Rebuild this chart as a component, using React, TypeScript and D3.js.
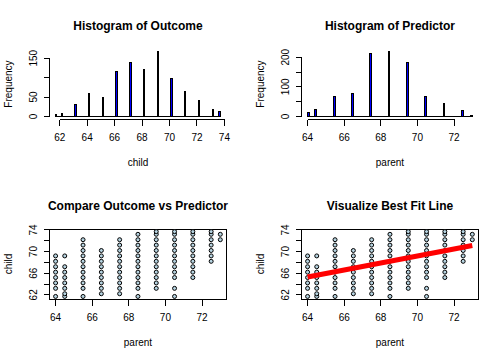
import React from "react";
import * as d3 from "d3";

// ---- data ----
const childValues = [61.7, 62.2, 63.2, 64.2, 65.2, 66.2, 67.2, 68.2, 69.2, 70.2, 71.2, 72.2, 73.2, 73.7];
const childCounts = [5, 7, 32, 59, 48, 117, 138, 120, 167, 99, 64, 41, 17, 14];
const parentValues = [64.0, 64.5, 65.5, 66.5, 67.5, 68.5, 69.5, 70.5, 71.5, 72.5, 73.0];
const parentCounts = [14, 23, 66, 78, 211, 219, 183, 68, 43, 19, 4];

const scatterParents = [64.0, 64.5, 65.5, 66.5, 67.5, 68.5, 69.5, 70.5, 71.5, 72.5, 73.0];
const scatterChildren = [
  [61.7, 63.2, 64.2, 65.2, 66.2, 67.2, 68.2, 69.2],
  [61.7, 62.2, 63.2, 64.2, 65.2, 66.2, 67.2, 69.2],
  [61.7, 63.2, 64.2, 65.2, 66.2, 67.2, 68.2, 69.2, 70.2, 71.2, 72.2],
  [62.2, 63.2, 64.2, 65.2, 66.2, 67.2, 68.2, 69.2, 70.2],
  [62.2, 63.2, 64.2, 65.2, 66.2, 67.2, 68.2, 69.2, 70.2, 71.2, 72.2],
  [61.7, 63.2, 64.2, 65.2, 66.2, 67.2, 68.2, 69.2, 70.2, 71.2, 72.2, 73.2],
  [63.2, 64.2, 65.2, 66.2, 67.2, 68.2, 69.2, 70.2, 71.2, 72.2, 73.2, 73.7],
  [61.7, 63.2, 65.2, 66.2, 67.2, 68.2, 69.2, 70.2, 71.2, 72.2, 73.2, 73.7],
  [65.2, 66.2, 67.2, 68.2, 69.2, 70.2, 71.2, 72.2, 73.2, 73.7],
  [68.2, 69.2, 70.2, 71.2, 72.2, 73.2, 73.7],
  [72.2, 73.2],
];

const fitX = [64, 73];
const fitY = [65.3, 71.12];

const childTicks = [62, 64, 66, 68, 70, 72, 74];
const childFreqTicks = [0, 50, 100, 150];
const childFreqLabels = ["0", "50", "", "150"];
const parentTicks = [64, 66, 68, 70, 72];
const parentFreqTicks = [0, 50, 100, 150, 200];
const parentFreqLabels = ["0", "", "100", "", "200"];
const scatterYTicks = [62, 64, 66, 68, 70, 72, 74];
const scatterYLabels = ["62", "", "66", "", "70", "", "74"];

// ---- layout (R base graphics, mfrow 2x2, cex 0.83) ----
const PW = 252, PH = 180;
const LINE = 0.83 * 0.2 * 72;
const L = 4.1 * LINE, R = PW - 2.1 * LINE, T = 4.1 * LINE, B = PH - 5.1 * LINE;
const FONT = "Liberation Sans, Arial, Helvetica, sans-serif";
const BIN = 0.1;
const f = Math.floor;

function ext(lo: number, hi: number): [number, number] {
  const d = (hi - lo) * 0.04;
  return [lo - d, hi + d];
}

function Axes({ x, y, xTicks, yTicks, yLabels, xLabel, yLabel, title, box }: any) {
  const by = f(B) + 0.5;
  const lx = f(L) + 0.5;
  return (
    <g>
      <text x={(L + R) / 2} y={30} textAnchor="middle" fontSize={12} fontWeight="bold" fontFamily={FONT}>{title}</text>
      {box && (
        <rect x={lx} y={f(T) + 0.5} width={f(R) - f(L)} height={f(B) - f(T)} fill="none" stroke="black" strokeWidth={1} shapeRendering="crispEdges" />
      )}
      <line x1={f(x(xTicks[0])) + 0.5} x2={f(x(xTicks[xTicks.length - 1])) + 0.5} y1={by} y2={by} stroke="black" shapeRendering="crispEdges" />
      {xTicks.map((t: number) => (
        <g key={"xt" + t}>
          <line x1={f(x(t)) + 0.5} x2={f(x(t)) + 0.5} y1={by} y2={by + 6} stroke="black" shapeRendering="crispEdges" />
          <text x={x(t)} y={140.5} textAnchor="middle" fontSize={10} fontFamily={FONT}>{t}</text>
        </g>
      ))}
      <line x1={lx} x2={lx} y1={f(y(yTicks[0])) + 0.5} y2={f(y(yTicks[yTicks.length - 1])) + 0.5} stroke="black" shapeRendering="crispEdges" />
      {yTicks.map((t: number, i: number) => (
        <g key={"yt" + t}>
          <line x1={lx - 6} x2={lx} y1={f(y(t)) + 0.5} y2={f(y(t)) + 0.5} stroke="black" shapeRendering="crispEdges" />
          {yLabels[i] && (
            <text transform={`translate(37,${y(t)}) rotate(-90)`} textAnchor="middle" fontSize={10} fontFamily={FONT}>{yLabels[i]}</text>
          )}
        </g>
      ))}
      <text x={(L + R) / 2} y={166} textAnchor="middle" fontSize={10} fontFamily={FONT}>{xLabel}</text>
      <text transform={`translate(11.5,${(T + B) / 2}) rotate(-90)`} textAnchor="middle" fontSize={10} fontFamily={FONT}>{yLabel}</text>
    </g>
  );
}

function Histogram({ values, counts, ticks, yTicks, yLabels, xLabel, title }: any) {
  const first = values[0];
  const last = values[values.length - 1];
  const x = d3.scaleLinear().domain(ext(first, last)).range([L, R]);
  const y = d3.scaleLinear().domain(ext(0, d3.max(counts as number[])!)).range([B, T]);
  const y0 = f(y(0));
  return (
    <g>
      <Axes x={x} y={y} xTicks={ticks} yTicks={yTicks} yLabels={yLabels} xLabel={xLabel} yLabel="Frequency" title={title} />
      <line x1={f(x(first)) + 0.5} x2={f(x(last)) + 0.5} y1={y0 + 0.5} y2={y0 + 0.5} stroke="black" shapeRendering="crispEdges" />
      {values.map((v: number, i: number) => {
        // right-closed bins of width 0.1; the first bin includes its lower edge
        const a = i === 0 ? v : v - BIN;
        const b = i === 0 ? v + BIN : v;
        const xa = f(x(a));
        const xb = Math.max(f(x(b)), xa + 1);
        const yt = f(y(counts[i]));
        return (
          <rect key={i} x={xa + 0.5} y={yt + 0.5} width={xb - xa} height={Math.max(y0 - yt, 0)} fill="blue" stroke="black" strokeWidth={1} shapeRendering="crispEdges" />
        );
      })}
    </g>
  );
}

function Scatter({ title, fit }: any) {
  const x = d3.scaleLinear().domain(ext(d3.min(scatterParents)!, d3.max(scatterParents)!)).range([L, R]);
  const y = d3.scaleLinear().domain(ext(d3.min(childValues)!, d3.max(childValues)!)).range([B, T]);
  const line = d3.line<number>().x((d) => x(d)).y((_, i) => y(fitY[i]));
  return (
    <g>
      <Axes x={x} y={y} xTicks={parentTicks} yTicks={scatterYTicks} yLabels={scatterYLabels} xLabel="parent" yLabel="child" title={title} box />
      {scatterParents.map((p, i) =>
        scatterChildren[i].map((c) => (
          <circle key={p + "-" + c} cx={x(p)} cy={y(c)} r={2} fill="#b6d3e0" stroke="black" strokeWidth={1} />
        ))
      )}
      {fit && <path d={line(fitX) || ""} fill="none" stroke="red" strokeWidth={5} />}
    </g>
  );
}

export default function App() {
  return (
    <svg width={504} height={360} style={{ position: "absolute", left: 0, top: 0, background: "white" }}>
      <rect width={504} height={360} fill="white" />
      <g>
        <Histogram values={childValues} counts={childCounts} ticks={childTicks} yTicks={childFreqTicks} yLabels={childFreqLabels} xLabel="child" title="Histogram of Outcome" />
      </g>
      <g transform={`translate(${PW},0)`}>
        <Histogram values={parentValues} counts={parentCounts} ticks={parentTicks} yTicks={parentFreqTicks} yLabels={parentFreqLabels} xLabel="parent" title="Histogram of Predictor" />
      </g>
      <g transform={`translate(0,${PH})`}>
        <Scatter title="Compare Outcome vs Predictor" />
      </g>
      <g transform={`translate(${PW},${PH})`}>
        <Scatter title="Visualize Best Fit Line" fit />
      </g>
    </svg>
  );
}
